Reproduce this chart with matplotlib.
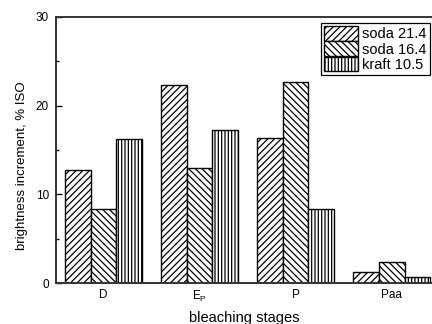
import numpy as np
import matplotlib
matplotlib.use('Agg')
import matplotlib.pyplot as plt

plt.rcParams['font.family'] = ['Liberation Sans', 'DejaVu Sans']
plt.rcParams['hatch.linewidth'] = 0.9

stages = ['D', r'E$_\mathregular{P}$', 'P', 'Paa']
series = ['soda 21.4', 'soda 16.4', 'kraft 10.5']
soda_214 = [12.8, 22.3, 16.4, 1.3]
soda_164 = [8.4, 13.0, 22.6, 2.4]
kraft_105 = [16.2, 17.3, 8.4, 0.7]
hatches = ['/////', '\\\\\\\\\\', '|||||']

fig = plt.figure(figsize=(4.32, 3.24), dpi=100)
ax = fig.add_axes([0.1296, 0.1256, 0.8704, 0.823])

x = np.arange(len(stages))
w = 0.268
for i, (vals, lab, h) in enumerate(zip([soda_214, soda_164, kraft_105], series, hatches)):
    ax.bar(x + (i - 1) * w, vals, w, label=lab, facecolor='white',
           edgecolor='black', linewidth=1.0, hatch=h)

ax.set_xlim(-0.495, 3.42)
ax.set_ylim(0, 30)
ax.set_xticks(x)
ax.set_xticklabels(stages, fontsize=8.5)
ax.set_yticks([0, 10, 20, 30])
ax.set_yticks([5, 15, 25], minor=True)
ax.tick_params(axis='y', direction='in', length=4, width=1, labelsize=8.5, pad=5)
ax.tick_params(axis='y', which='minor', direction='in', length=2.5, width=1)
ax.tick_params(axis='x', direction='in', length=0, pad=4)
ax.spines['right'].set_visible(False)
for s in ['left', 'bottom', 'top']:
    ax.spines[s].set_linewidth(1.4)
    ax.spines[s].set_color('#333333')

ax.set_xlabel('bleaching stages', fontsize=10.5, labelpad=5)
ax.set_ylabel('brightness increment, % ISO', fontsize=9.5)
ax.yaxis.set_label_coords(-0.075, 0.44)

leg = ax.legend(loc='upper right', bbox_to_anchor=(0.995, 0.978), fontsize=10.5,
                fancybox=False, edgecolor='black', framealpha=1,
                handlelength=2.3, handleheight=1.15, labelspacing=0.0,
                handletextpad=0.3, borderpad=0.25, borderaxespad=0.0)
leg.get_frame().set_linewidth(0.9)

fig.savefig('out.png', dpi=100)
